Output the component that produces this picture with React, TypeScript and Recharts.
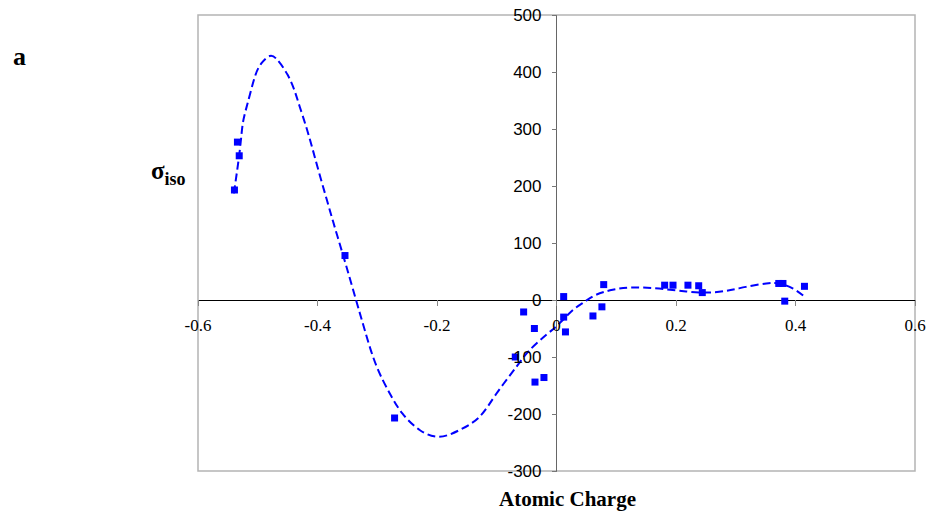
import React from 'react';
import { ComposedChart, Line, Scatter, XAxis, YAxis, ReferenceLine, ReferenceArea } from 'recharts';

// measured atomic charge vs isotropic shielding
const charge = [
  -0.539, -0.534, -0.531, -0.354, -0.271, -0.069, -0.055, -0.037, -0.036, -0.021,
  0.012, 0.012, 0.015, 0.061, 0.076, 0.079, 0.181, 0.195, 0.220, 0.238,
  0.244, 0.372, 0.379, 0.382, 0.415,
];
const sigma = [
  193, 277, 253, 78, -207, -100, -21, -50, -144, -136,
  6, -30, -56, -28, -12, 27, 26, 26, 26, 25,
  13, 29, 29, -2, 24,
];

// dashed trend line
const fitCharge = [
  -0.540, -0.530, -0.525, -0.517, -0.505, -0.494, -0.480, -0.467, -0.450, -0.438,
  -0.430, -0.419, -0.408, -0.397, -0.385, -0.374, -0.363, -0.352, -0.341, -0.330,
  -0.320, -0.302, -0.279, -0.258, -0.229, -0.196, -0.162, -0.129, -0.101, -0.067,
  -0.045, -0.017, 0.005, 0.027, 0.047, 0.066, 0.094, 0.128, 0.172, 0.217,
  0.251, 0.284, 0.317, 0.351, 0.373, 0.396, 0.415,
];
const fitSigma = [
  187, 263, 310, 345, 391, 415, 428, 421, 395, 366,
  340, 304, 264, 222, 178, 138, 99, 60, 20, -20,
  -56, -114, -164, -199, -228, -240, -228, -205, -165, -117,
  -88, -61, -41, -18, -3, 9, 18, 22, 20, 15,
  13, 16, 23, 29, 29, 20, 6,
];

const xTicks = [-0.6, -0.4, -0.2, 0, 0.2, 0.4, 0.6];
const yTicks = [-300, -200, -100, 0, 100, 200, 300, 400, 500];

const W = 930;
const H = 511;
const LEFT = 198;
const RIGHT = 915;
const TOP = 15;
const BOTTOM = 471;
const X_MIN = -0.6;
const X_MAX = 0.6;
const Y_MIN = -300;
const Y_MAX = 500;
const AXIS_H = 30;
const AXIS_W = 60;

// where the axes cross (value 0)
const zeroX = LEFT + ((0 - X_MIN) / (X_MAX - X_MIN)) * (RIGHT - LEFT);
const zeroY = TOP + ((Y_MAX - 0) / (Y_MAX - Y_MIN)) * (BOTTOM - TOP);

const points = charge.map((c, i) => ({ x: c, y: sigma[i] }));
const fit = fitCharge.map((c, i) => ({ x: c, y: fitSigma[i] }));

const XTick = (props: any) => {
  const { x, payload } = props;
  return (
    <g>
      <line x1={x} x2={x} y1={zeroY} y2={zeroY + 6} stroke="#888" shapeRendering="crispEdges" />
      <text x={x} y={zeroY + 31} textAnchor="middle" fontFamily="'Liberation Serif', 'Times New Roman', serif" fontSize={17} fill="#000">
        {payload.value}
      </text>
    </g>
  );
};

const YTick = (props: any) => {
  const { y, payload } = props;
  return (
    <g>
      <line x1={zeroX - 5} x2={zeroX} y1={y} y2={y} stroke="#777" shapeRendering="crispEdges" />
      <text x={zeroX - 15} y={y} dy="0.36em" textAnchor="end" fontFamily="'Liberation Sans', Arial, sans-serif" fontSize={17} fill="#000">
        {payload.value}
      </text>
    </g>
  );
};

const Square = (props: any) => {
  const { cx, cy } = props;
  return <rect x={cx - 3.5} y={cy - 3.5} width={7} height={7} fill="#0000FF" />;
};

export default function App() {
  return (
    <div style={{ position: 'absolute', left: 0, top: 0, width: W, height: H, background: '#fff' }}>
      <ComposedChart
        width={W}
        height={H}
        margin={{ top: TOP, right: W - RIGHT, bottom: H - BOTTOM - AXIS_H, left: LEFT - AXIS_W }}
      >
        <XAxis
          dataKey="x"
          type="number"
          domain={[X_MIN, X_MAX]}
          ticks={xTicks}
          height={AXIS_H}
          axisLine={false}
          tickLine={false}
          tick={XTick}
          interval={0}
          allowDataOverflow
        />
        <YAxis
          dataKey="y"
          type="number"
          domain={[Y_MIN, Y_MAX]}
          ticks={yTicks}
          width={AXIS_W}
          axisLine={false}
          tickLine={false}
          tick={YTick}
          interval={0}
          allowDataOverflow
        />
        <ReferenceArea x1={X_MIN} x2={X_MAX} y1={Y_MIN} y2={Y_MAX} fill="none" stroke="#b4b4b4" strokeWidth={1.5} />
        <ReferenceLine x={0} stroke="#666" shapeRendering="crispEdges" />
        <ReferenceLine y={0} stroke="#000" shapeRendering="crispEdges" />
        <Line
          data={fit}
          dataKey="y"
          type="natural"
          stroke="#0000FF"
          strokeWidth={2}
          strokeDasharray="8 4"
          dot={false}
          activeDot={false}
          isAnimationActive={false}
        />
        <Scatter data={points} dataKey="y" fill="#0000FF" shape={<Square />} isAnimationActive={false} />
      </ComposedChart>
      <svg width={W} height={H} style={{ position: 'absolute', left: 0, top: 0, pointerEvents: 'none' }}>
        <text x={13} y={65} fontFamily="'Liberation Serif', serif" fontWeight="bold" fontSize={26}>a</text>
        <text x={151} y={179} fontFamily="'Liberation Serif', serif" fontWeight="bold" fontSize={25}>
          σ<tspan fontSize={18} dy={6}>iso</tspan>
        </text>
        <text x={567.5} y={506} textAnchor="middle" fontFamily="'Liberation Serif', serif" fontWeight="bold" fontSize={21}>
          Atomic Charge
        </text>
      </svg>
    </div>
  );
}
